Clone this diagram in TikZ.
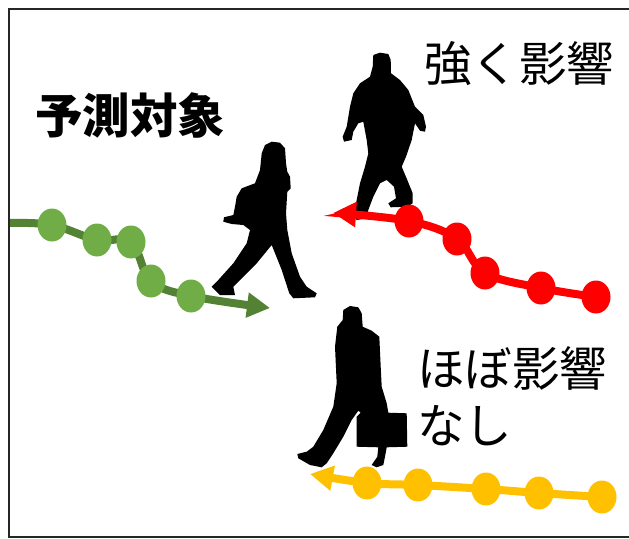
\documentclass[tikz,border=0pt]{standalone}
\usepackage{fontspec}
\newfontfamily\jpfont{Noto Sans CJK JP}
\usetikzlibrary{arrows.meta,shapes.geometric,backgrounds}
\definecolor{trackgreen}{HTML}{548235}
\definecolor{dotgreen}{HTML}{70AD47}
\definecolor{trackred}{HTML}{FF0000}
\definecolor{trackyellow}{HTML}{FFC000}

\begin{document}
\begin{tikzpicture}[x=1pt,y=-1pt,
  walker/.style={fill=black},
  track/.style={line width=8pt,-{Triangle[length=23pt,width=24pt]}},
  tdot/.style={ellipse,minimum width=29pt,minimum height=33pt,inner sep=0pt},
  jplabel/.style={font=\jpfont\fontsize{47.5}{57}\selectfont,inner sep=0pt,align=left}]
\useasboundingbox (0,0) rectangle (629,538);
\draw[line width=2pt,black!85] (629,9) -- (9,9) -- (9,537) -- (629,537);

\node[jplabel,anchor=west,font=\jpfont\bfseries\fontsize{47.5}{57}\selectfont] (target) at (35,115) {予測対象};
\node[jplabel,anchor=west] (strong) at (424,64) {強く影響};
\node[jplabel,anchor=west] (weak) at (417,396) {ほぼ影響\\なし};

\begin{scope}[on background layer]
\fill[walker] (265,145) -- (271.7,141.7) -- (280,142.7) -- (285,148.3) -- (286,163.3) -- (287.3,171.7) -- (290,176.7) -- (290.7,188.3) -- (287.3,191.7) -- (286,213.3) -- (287.3,230) -- (291.7,253.3) -- (300,276.7) -- (306.7,286.7) -- (316.7,293.3) -- (315,297.3) -- (293.3,298.3) -- (289.3,293.3) -- (281.7,270) -- (271.7,245) -- (256.7,263.3) -- (240,280) -- (233.3,286.7) -- (235,295) -- (220,295) -- (211.7,286.7) -- (218.3,280) -- (233.3,263.3) -- (246.7,243.3) -- (250,230) -- (243.3,225) -- (231.7,224) -- (223.3,221.7) -- (224,217.3) -- (233.3,215) -- (235,206.7) -- (236.7,196.7) -- (241.7,188.3) -- (255,183.3) -- (260,170) -- (261.7,153.3) -- cycle;
\fill[walker] (373.3,55) -- (380,52.7) -- (388.3,54) -- (390.7,60) -- (391,73.3) -- (400,80) -- (408.3,90) -- (415,106.7) -- (423.3,115) -- (426,126.7) -- (425,131.7) -- (420,130.7) -- (415,123.3) -- (411.7,140) -- (406,156.7) -- (401.7,166.7) -- (407.3,180) -- (412.7,193.3) -- (412.7,203.3) -- (407.3,206.7) -- (390.7,207.3) -- (388.3,203.3) -- (396,198.3) -- (394,186.7) -- (386.7,180) -- (380,183.3) -- (373.3,196.7) -- (368.3,210) -- (366.7,218.3) -- (356.7,220) -- (353.3,215) -- (356,203.3) -- (360,183.3) -- (365,166.7) -- (368.3,153.3) -- (366.7,140) -- (363.3,121.7) -- (358.3,123.3) -- (353.3,131.7) -- (351.7,140) -- (344,141.7) -- (342.7,136.7) -- (346.7,126.7) -- (350,106.7) -- (353.3,93.3) -- (360,83.3) -- (370,76.7) -- (372.7,66.7) -- cycle;
\fill[walker] (343.3,310) -- (350,306) -- (358.3,307.3) -- (361.7,313.3) -- (362.7,326.7) -- (371.7,330.7) -- (379.3,336.7) -- (380.7,366.7) -- (381.7,386.7) -- (386.7,403.3) -- (388.3,412.7) -- (406.7,413.3) -- (407.3,446.7) -- (386.7,447.3) -- (385,456.7) -- (383.3,465) -- (376.7,467.3) -- (371.7,465) -- (377.3,456.7) -- (378.3,447.3) -- (356.7,446.7) -- (356.7,416.7) -- (360.7,412.7) -- (358.3,410.7) -- (351.7,420) -- (343.3,436.7) -- (333.3,453.3) -- (326.7,463.3) -- (321.7,467.3) -- (310,465) -- (298.3,458.3) -- (297.3,454) -- (306.7,451.7) -- (313.3,446.7) -- (323.3,430) -- (333.3,406.7) -- (336.7,383.3) -- (335,346.7) -- (337.3,326.7) -- (342.7,320) -- cycle;
\end{scope}

\node[tdot,fill=dotgreen] (g1) at (52,225) {};
\node[tdot,fill=dotgreen] (g2) at (97,240) {};
\node[tdot,fill=dotgreen] (g3) at (131,242) {};
\node[tdot,fill=dotgreen] (g4) at (151,281) {};
\node[tdot,fill=dotgreen] (g5) at (191,296) {};
\coordinate (gstart) at (10,223);
\coordinate (gtip) at (270,308);

\node[tdot,fill=trackred] (r1) at (409,221) {};
\node[tdot,fill=trackred] (r2) at (457,239) {};
\node[tdot,fill=trackred] (r3) at (485,273) {};
\node[tdot,fill=trackred] (r4) at (541,288) {};
\node[tdot,fill=trackred] (r5) at (596,297) {};
\coordinate (rtip) at (333,213);

\node[tdot,fill=trackyellow] (y1) at (367,483) {};
\node[tdot,fill=trackyellow] (y2) at (418,485) {};
\node[tdot,fill=trackyellow] (y3) at (486,489) {};
\node[tdot,fill=trackyellow] (y4) at (539,493) {};
\node[tdot,fill=trackyellow] (y5) at (602,497) {};
\coordinate (ytip) at (310,474);

\begin{scope}[on background layer]
\draw[track,trackgreen] plot[smooth,tension=0.6] coordinates {(gstart) (g1.center) (g2.center) (g3.center) (g4.center) (g5.center) (gtip)};
\draw[track,trackred] plot[smooth,tension=0.6] coordinates {(r5.center) (r4.center) (r3.center) (r2.center) (r1.center) (rtip)};
\draw[track,trackyellow] plot[smooth,tension=0.6] coordinates {(y5.center) (y4.center) (y3.center) (y2.center) (y1.center) (ytip)};
\end{scope}
\end{tikzpicture}
\end{document}
